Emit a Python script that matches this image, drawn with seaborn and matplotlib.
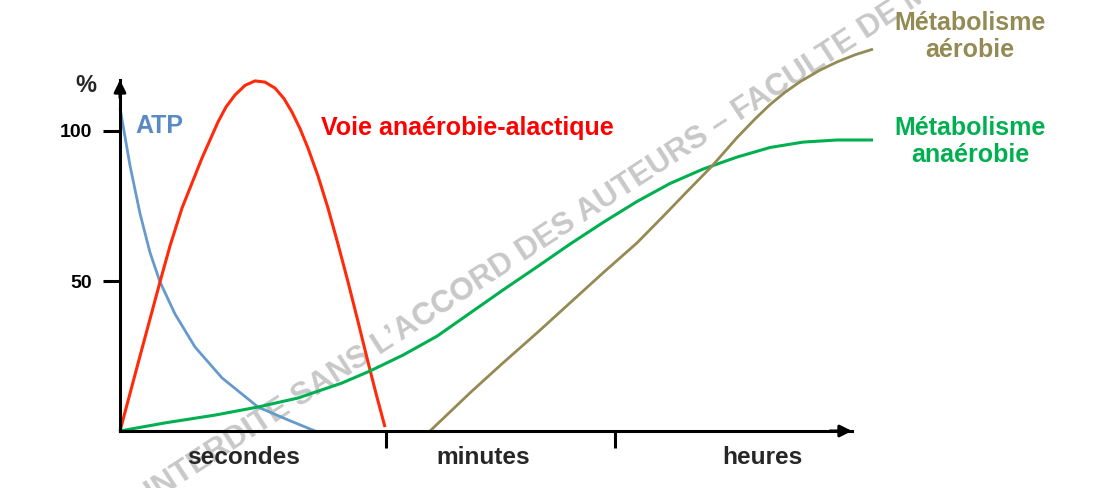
import matplotlib
matplotlib.use("Agg")
import matplotlib.pyplot as plt
import seaborn as sns
import pandas as pd

# ---------------- data (x: arbitrary time units, y: %) ----------------
atp_x = [0, 10, 20, 30, 40, 55, 75, 102, 138, 168, 195]
atp_y = [107.7, 88.5, 72.5, 59.5, 49.7, 39.0, 28.0, 17.7, 8.0, 3.7, 0.0]

alac_x = [0, 18, 40, 50, 62, 82, 98, 106, 115, 125, 135, 145, 155, 164, 172, 180, 188, 198,
          208, 218, 228, 238, 248, 256, 265]
alac_y = [0, 22.5, 49.7, 61.7, 74.3, 91.0, 103.0, 108.0, 112.0, 115.2, 116.7, 116.3, 114.3,
          110.8, 106.3, 100.8, 94.3, 85.0, 74.3, 62.3, 49.7, 36.5, 23.0, 12.5, 1.3]

anaer_x = [0, 45, 95, 138, 178, 222, 250, 283, 317, 350, 383, 417, 450, 483, 517, 550, 583,
           617, 650, 683, 717, 753]
anaer_y = [0, 2.7, 5.3, 8.0, 11.0, 16.0, 20.0, 25.3, 31.6, 39.3, 47.0, 54.7, 62.3, 69.5, 76.5,
           82.5, 87.3, 91.3, 94.5, 96.3, 97.0, 97.0]

aer_x = [310, 350, 383, 417, 450, 483, 517, 543, 567, 592, 617, 635, 650, 665, 680, 700, 717,
         735, 753]
aer_y = [0, 12.7, 22.7, 32.7, 42.7, 52.7, 62.7, 71.5, 79.8, 88.3, 97.8, 104.0, 108.8, 112.9,
         116.4, 120.3, 123.0, 125.4, 127.3]

y_ticks = [50, 100]
y_tick_labels = ["50", "100"]
x_ticks = [266, 495]
x_zone_centers = [124, 363, 642]
x_zone_labels = ["secondes", "minutes", "heures"]

# ---------------- style ----------------
sns.set_theme(style="white")
plt.rcParams["font.family"] = ["Liberation Sans", "DejaVu Sans"]

W, H = 1102, 488
fig = plt.figure(figsize=(W / 100, H / 100), dpi=100)
ox, oy = 120, 431          # origin in pixels
ax_w, ax_h = 732, 351
ax = fig.add_axes([ox / W, (H - oy) / H, ax_w / W, ax_h / H])
ax.set_xlim(0, 732)
ax.set_ylim(0, 117)
ax.set_facecolor("none")

C_BLUE = "#6699CC"
C_BLUE_T = "#5A8AC6"
C_RED = "#FF2A0A"
C_RED_T = "#FF0000"
C_GREEN = "#00B050"
C_OLIVE = "#948A54"

series = [
    (atp_x, atp_y, C_BLUE, 2.0),
    (alac_x, alac_y, C_RED, 2.2),
    (anaer_x, anaer_y, C_GREEN, 2.2),
    (aer_x, aer_y, C_OLIVE, 2.0),
]
for xs, ys, col, lw in series:
    df = pd.DataFrame({"x": xs, "y": ys})
    sns.lineplot(data=df, x="x", y="y", ax=ax, color=col, linewidth=lw,
                 estimator=None, sort=False, zorder=3)
for ln in ax.lines:
    ln.set_clip_on(False)
    ln.set_solid_joinstyle("round")
    ln.set_solid_capstyle("butt")

# ---------------- axes ----------------
for s in ["top", "right"]:
    ax.spines[s].set_visible(False)
for s in ["left", "bottom"]:
    ax.spines[s].set_color("black")
    ax.spines[s].set_linewidth(2.2)
    ax.spines[s].set_zorder(4)

ax.set_yticks(y_ticks)
ax.set_yticklabels(y_tick_labels, fontsize=14, fontweight="bold", color="black")
ax.set_xticks(x_ticks)
ax.set_xticklabels([])
ax.tick_params(axis="both", direction="out", length=12, width=2.2, color="black",
               left=True, bottom=True)
ax.tick_params(axis="y", pad=8)
ax.set_xlabel("")
ax.set_ylabel("")

arrow_kw = dict(arrowstyle="-|>,head_length=0.7,head_width=0.35", color="black",
                lw=2.2, shrinkA=0, shrinkB=0, mutation_scale=10)
ax.annotate("", xy=(1, 0), xytext=(0.97, 0), xycoords="axes fraction", arrowprops=arrow_kw, zorder=5)
ax.annotate("", xy=(0, 1), xytext=(0, 0.95), xycoords="axes fraction", arrowprops=arrow_kw, zorder=5)

ax.text(-34, 115.3, "%", fontsize=17, fontweight="bold", ha="center", va="center", clip_on=False)

for xc, lab in zip(x_zone_centers, x_zone_labels):
    ax.text(xc, -8.7, lab, fontsize=17.6, fontweight="bold", ha="center", va="center", clip_on=False)

# ---------------- curve labels ----------------
ax.text(15, 101.5, "ATP", color=C_BLUE_T, fontsize=18, fontweight="bold", ha="left", va="center")
ax.text(347, 101.0, "Voie anaérobie-alactique", color=C_RED_T, fontsize=18, fontweight="bold",
        ha="center", va="center")
ax.text(850, 131.5, "Métabolisme\naérobie", color=C_OLIVE, fontsize=18, fontweight="bold",
        ha="center", va="center", multialignment="center", linespacing=1.15, clip_on=False)
ax.text(850, 96.5, "Métabolisme\nanaérobie", color=C_GREEN, fontsize=18, fontweight="bold",
        ha="center", va="center", multialignment="center", linespacing=1.15, clip_on=False)

# ---------------- watermark ----------------
wm_kw = dict(color="#C8C8C8", fontsize=22.5, fontweight="bold", rotation=33,
             rotation_mode="anchor", va="baseline", zorder=1, clip_on=False)
ax.text(172, 6.5, "REPRODUCTION INTERDITE", ha="right", **wm_kw)
ax.text(172, 6.5, " SANS L\u2019ACCORD DES AUTEURS \u2013 FACULTE DE MEDECINE", ha="left", **wm_kw)

fig.savefig("out.png", dpi=100)
